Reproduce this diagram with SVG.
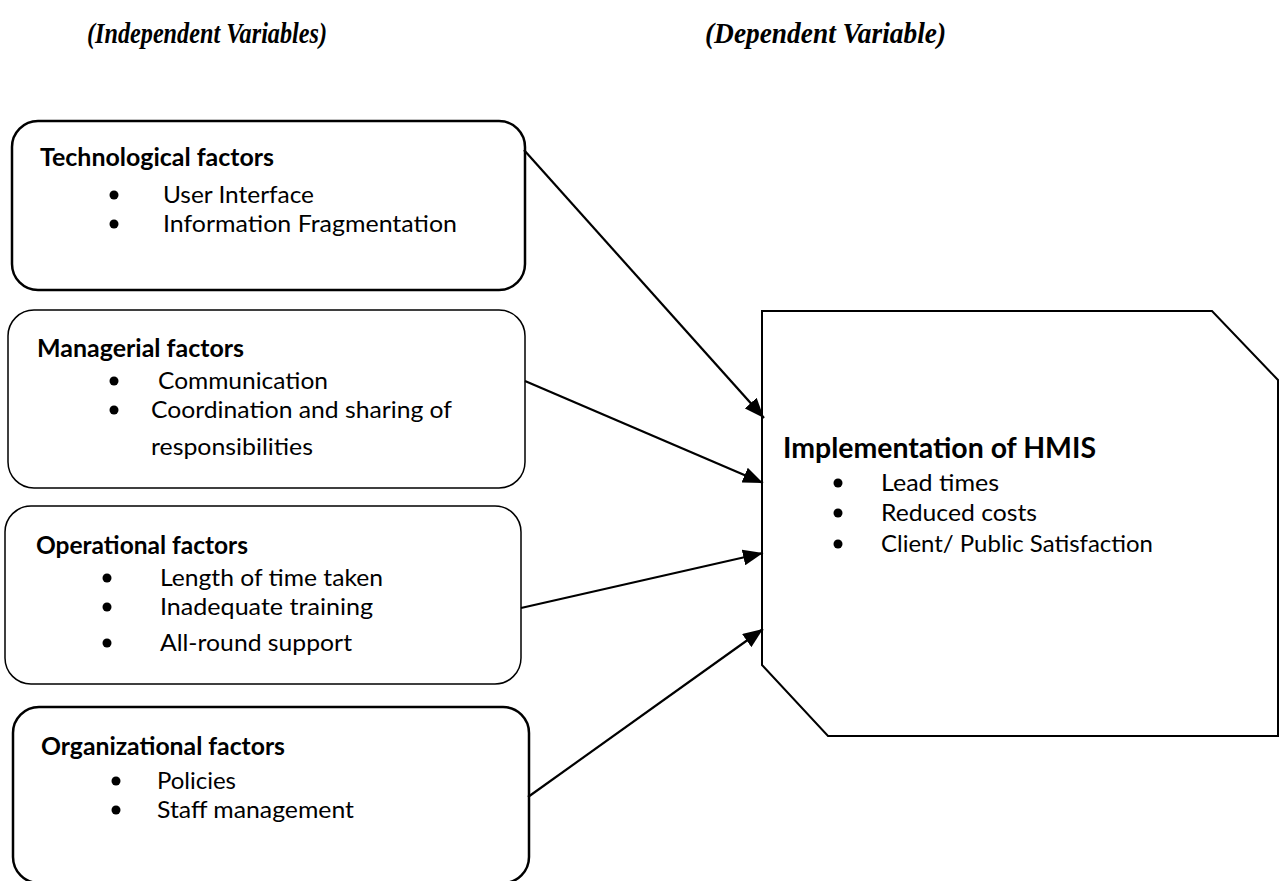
<svg xmlns="http://www.w3.org/2000/svg" width="1282" height="881" viewBox="0 0 1282 881">
<defs>
<style>
.hdr{font-family:"Liberation Serif","Times New Roman",serif;font-size:30px;font-weight:bold;font-style:italic;fill:#000}
.ttl{font-family:Lato,"Liberation Sans",sans-serif;font-size:24px;font-weight:bold;fill:#000}
.txt{font-family:Lato,"Liberation Sans",sans-serif;font-size:24px;fill:#000}
.big{font-family:Lato,"Liberation Sans",sans-serif;font-size:28px;font-weight:bold;fill:#000}
.box{fill:#fff;stroke:#000}
.thick{stroke-width:2.5}
.thin{stroke-width:1.5}
.conn{stroke:#000;stroke-width:2.2;fill:none;marker-end:url(#arr)}
.dot{fill:#000}
</style>
<marker id="arr" markerUnits="userSpaceOnUse" markerWidth="22" markerHeight="16" refX="20" refY="8" orient="auto">
<path d="M0,0 L20,8 L0,16 Z" fill="#000"/>
</marker>
</defs>
<rect width="1282" height="881" fill="#fff"/>
<text class="hdr" x="87" y="43" textLength="240" lengthAdjust="spacingAndGlyphs">(Independent Variables)</text>
<text class="hdr" x="705" y="43" textLength="241" lengthAdjust="spacingAndGlyphs">(Dependent Variable)</text>

<g id="technological">
<rect class="box thick" x="12" y="121" width="513" height="169" rx="26" ry="26"/>
<text class="ttl" x="40" y="166" textLength="234" lengthAdjust="spacingAndGlyphs">Technological factors</text>
<circle class="dot" cx="114" cy="195" r="4.5"/>
<text class="txt" x="163" y="203" textLength="151" lengthAdjust="spacingAndGlyphs">User Interface</text>
<circle class="dot" cx="114" cy="224" r="4.5"/>
<text class="txt" x="163" y="232" textLength="294" lengthAdjust="spacingAndGlyphs">Information Fragmentation</text>
</g>

<g id="managerial">
<rect class="box thin" x="8" y="310" width="517" height="178" rx="26" ry="26"/>
<text class="ttl" x="37" y="357" textLength="207" lengthAdjust="spacingAndGlyphs">Managerial factors</text>
<circle class="dot" cx="114" cy="381" r="4.5"/>
<text class="txt" x="158" y="389" textLength="170" lengthAdjust="spacingAndGlyphs">Communication</text>
<circle class="dot" cx="114" cy="410" r="4.5"/>
<text class="txt" x="151" y="418" textLength="301" lengthAdjust="spacingAndGlyphs">Coordination and sharing of</text>
<text class="txt" x="151" y="455" textLength="162" lengthAdjust="spacingAndGlyphs">responsibilities</text>
</g>

<g id="operational">
<rect class="box thin" x="5" y="506" width="516" height="178" rx="26" ry="26"/>
<text class="ttl" x="36" y="554" textLength="212" lengthAdjust="spacingAndGlyphs">Operational factors</text>
<circle class="dot" cx="107" cy="578" r="4.5"/>
<text class="txt" x="160" y="586" textLength="223" lengthAdjust="spacingAndGlyphs">Length of time taken</text>
<circle class="dot" cx="107" cy="607" r="4.5"/>
<text class="txt" x="160" y="615" textLength="213" lengthAdjust="spacingAndGlyphs">Inadequate training</text>
<circle class="dot" cx="107" cy="643" r="4.5"/>
<text class="txt" x="160" y="651" textLength="192" lengthAdjust="spacingAndGlyphs">All-round support</text>
</g>

<g id="organizational">
<rect class="box thick" x="13" y="707" width="516" height="176" rx="26" ry="26"/>
<text class="ttl" x="41" y="755" textLength="244" lengthAdjust="spacingAndGlyphs">Organizational factors</text>
<circle class="dot" cx="116" cy="781" r="4.5"/>
<text class="txt" x="157" y="789" textLength="79" lengthAdjust="spacingAndGlyphs">Policies</text>
<circle class="dot" cx="116" cy="810" r="4.5"/>
<text class="txt" x="157" y="818" textLength="197" lengthAdjust="spacingAndGlyphs">Staff management</text>
</g>

<g id="hmis">
<path class="box" stroke-width="2" d="M762,311 H1212 L1278,380 V736 H828 L762,665 Z"/>
<text class="big" x="783" y="458" textLength="313" lengthAdjust="spacingAndGlyphs">Implementation of HMIS</text>
<circle class="dot" cx="838" cy="483" r="4.5"/>
<text class="txt" x="881" y="491" textLength="118" lengthAdjust="spacingAndGlyphs">Lead times</text>
<circle class="dot" cx="838" cy="513" r="4.5"/>
<text class="txt" x="881" y="521" textLength="156" lengthAdjust="spacingAndGlyphs">Reduced costs</text>
<circle class="dot" cx="838" cy="544" r="4.5"/>
<text class="txt" x="881" y="552" textLength="272" lengthAdjust="spacingAndGlyphs">Client/ Public Satisfaction</text>
</g>

<g id="connectors">
<line class="conn" x1="524" y1="150" x2="764" y2="418"/>
<line class="conn" x1="525" y1="381" x2="763" y2="483"/>
<line class="conn" x1="521" y1="608" x2="763" y2="553"/>
<line class="conn" x1="528" y1="797" x2="763" y2="629"/>
</g>
</svg>
